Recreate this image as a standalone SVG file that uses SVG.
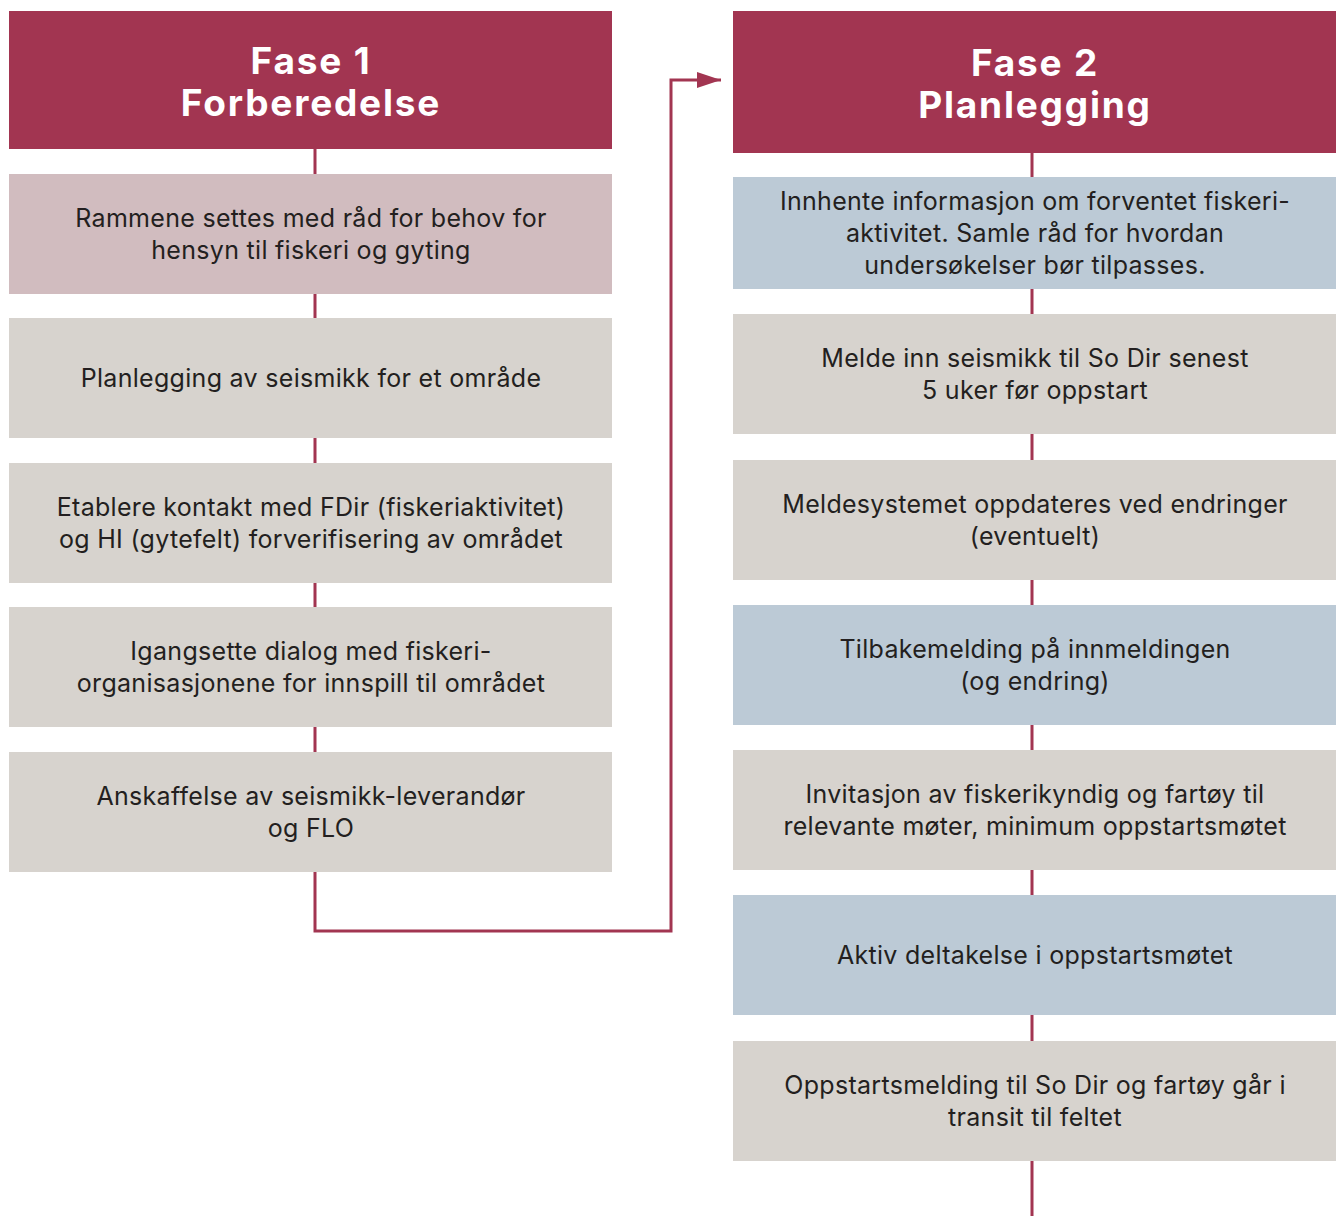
<svg xmlns="http://www.w3.org/2000/svg" width="1343" height="1216" viewBox="0 0 1343 1216">
<defs>
<style>
.hdr{fill:#A23551}
.pink{fill:#D1BCBF}
.gray{fill:#D7D3CE}
.blue{fill:#BCCAD6}
.ht{font-family:Inter,"Liberation Sans",sans-serif;font-weight:700;font-size:37px;letter-spacing:1.8px;fill:#FFFFFF;text-anchor:middle}
.bt{font-family:Inter,"Liberation Sans",sans-serif;font-size:25px;letter-spacing:0.3px;fill:#231F20;text-anchor:middle}
.ln{stroke:#A23551;stroke-width:3;fill:none}
</style>
<marker id="ah" markerWidth="24" markerHeight="16" refX="24" refY="8" orient="auto" markerUnits="userSpaceOnUse">
<path d="M0,0 L24,8 L0,16 Z" fill="#A23551"/>
</marker>
</defs>
<rect width="1343" height="1216" fill="#FFFFFF"/>
<g id="connectors">
<line class="ln" x1="315" y1="149" x2="315" y2="872"/>
<path class="ln" d="M315,872 V931 H671 V80 H721" marker-end="url(#ah)"/>
<line class="ln" x1="1032" y1="153" x2="1032" y2="1216"/>
</g>
<g id="fase1">
<rect class="hdr" x="9" y="11" width="603" height="138"/>
<text class="ht" x="311" y="74">Fase 1</text>
<text class="ht" x="311" y="116">Forberedelse</text>
</g>
<g id="n1"><rect class="pink" x="9" y="174" width="603" height="120"/>
<text class="bt" x="311" y="227">Rammene settes med råd for behov for</text>
<text class="bt" x="311" y="259">hensyn til fiskeri og gyting</text></g>
<g id="n2"><rect class="gray" x="9" y="318" width="603" height="120"/>
<text class="bt" x="311" y="387">Planlegging av seismikk for et område</text></g>
<g id="n3"><rect class="gray" x="9" y="463" width="603" height="120"/>
<text class="bt" x="311" y="516">Etablere kontakt med FDir (fiskeriaktivitet)</text>
<text class="bt" x="311" y="548">og HI (gytefelt) forverifisering av området</text></g>
<g id="n4"><rect class="gray" x="9" y="607" width="603" height="120"/>
<text class="bt" x="311" y="660">Igangsette dialog med fiskeri-</text>
<text class="bt" x="311" y="692">organisasjonene for innspill til området</text></g>
<g id="n5"><rect class="gray" x="9" y="752" width="603" height="120"/>
<text class="bt" x="311" y="805">Anskaffelse av seismikk-leverandør</text>
<text class="bt" x="311" y="837">og FLO</text></g>
<g id="fase2">
<rect class="hdr" x="733" y="11" width="603" height="142"/>
<text class="ht" x="1035" y="76">Fase 2</text>
<text class="ht" x="1035" y="118">Planlegging</text>
</g>
<g id="m1"><rect class="blue" x="733" y="177" width="603" height="112"/>
<text class="bt" x="1035" y="210">Innhente informasjon om forventet fiskeri-</text>
<text class="bt" x="1035" y="242">aktivitet. Samle råd for hvordan</text>
<text class="bt" x="1035" y="274">undersøkelser bør tilpasses.</text></g>
<g id="m2"><rect class="gray" x="733" y="314" width="603" height="120"/>
<text class="bt" x="1035" y="367">Melde inn seismikk til So Dir senest</text>
<text class="bt" x="1035" y="399">5 uker før oppstart</text></g>
<g id="m3"><rect class="gray" x="733" y="460" width="603" height="120"/>
<text class="bt" x="1035" y="513">Meldesystemet oppdateres ved endringer</text>
<text class="bt" x="1035" y="545">(eventuelt)</text></g>
<g id="m4"><rect class="blue" x="733" y="605" width="603" height="120"/>
<text class="bt" x="1035" y="658">Tilbakemelding på innmeldingen</text>
<text class="bt" x="1035" y="690">(og endring)</text></g>
<g id="m5"><rect class="gray" x="733" y="750" width="603" height="120"/>
<text class="bt" x="1035" y="803">Invitasjon av fiskerikyndig og fartøy til</text>
<text class="bt" x="1035" y="835">relevante møter, minimum oppstartsmøtet</text></g>
<g id="m6"><rect class="blue" x="733" y="895" width="603" height="120"/>
<text class="bt" x="1035" y="964">Aktiv deltakelse i oppstartsmøtet</text></g>
<g id="m7"><rect class="gray" x="733" y="1041" width="603" height="120"/>
<text class="bt" x="1035" y="1094">Oppstartsmelding til So Dir og fartøy går i</text>
<text class="bt" x="1035" y="1126">transit til feltet</text></g>
</svg>
